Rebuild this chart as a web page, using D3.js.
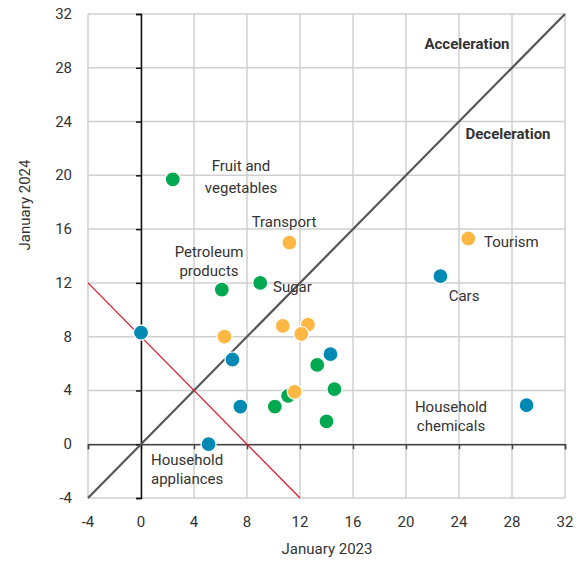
<!DOCTYPE html>
<html>
<head>
<meta charset="utf-8">
<script src="https://cdn.jsdelivr.net/npm/d3@7"></script>
<style>
  body { margin: 0; background: #fff; }
  text { font-family: Roboto, "Open Sans", sans-serif; fill: #333; }
</style>
</head>
<body>
<div id="chart"></div>
<script>
// Jan 2023 (x) vs Jan 2024 (y), % y/y
const greenX = [2.4, 6.1, 9.0, 13.3, 14.6, 11.1, 10.1, 14.0];
const greenY = [19.7, 11.5, 12.0, 5.9, 4.1, 3.6, 2.8, 1.7];
const orangeX = [11.2, 24.7, 10.7, 12.6, 12.1, 6.3, 11.6];
const orangeY = [15.0, 15.3, 8.8, 8.9, 8.2, 8.0, 3.9];
const blueX = [22.6, 29.1, 5.1, 0.0, 6.9, 14.3, 7.5];
const blueY = [12.5, 2.9, 0.0, 8.3, 6.3, 6.7, 2.8];
const ticks = [-4, 0, 4, 8, 12, 16, 20, 24, 28, 32];

const W = 584, H = 561;
const m = { top: 14, right: 19, bottom: 63, left: 88 };

const svg = d3.select("#chart").append("svg")
    .attr("width", W)
    .attr("height", H);

const x = d3.scaleLinear().domain([-4, 32]).range([m.left, W - m.right]);
const y = d3.scaleLinear().domain([-4, 32]).range([H - m.bottom, m.top]);

// grid
const grid = svg.append("g").attr("stroke", "#cfcfcf").attr("stroke-width", 1.5);
grid.selectAll(".gx").data(ticks).enter().append("line")
    .attr("x1", d => x(d)).attr("x2", d => x(d))
    .attr("y1", y(-4)).attr("y2", y(32));
grid.selectAll(".gy").data(ticks).enter().append("line")
    .attr("y1", d => y(d)).attr("y2", d => y(d))
    .attr("x1", x(-4)).attr("x2", x(32));

// zero axes with ticks
svg.append("g")
    .attr("transform", `translate(0,${y(0)})`)
    .call(d3.axisBottom(x).tickValues(ticks).tickSize(5).tickFormat(""))
    .call(g => g.selectAll("path,line").attr("stroke", "#444").attr("stroke-width", 1.5));

svg.append("g")
    .attr("transform", `translate(${x(0)},0)`)
    .call(d3.axisLeft(y).tickValues(ticks).tickSize(5).tickFormat(""))
    .call(g => g.selectAll("path,line").attr("stroke", "#111").attr("stroke-width", 1.5));

// tick labels
svg.append("g").selectAll("text").data(ticks).enter().append("text")
    .attr("x", d => x(d)).attr("y", y(-4) + 29)
    .attr("text-anchor", "middle")
    .style("font-size", "15px")
    .text(d => d);
svg.append("g").selectAll("text").data(ticks).enter().append("text")
    .attr("x", x(-4) - 16).attr("y", d => y(d) + 5)
    .attr("text-anchor", "end")
    .style("font-size", "15px")
    .text(d => d);

// axis titles
svg.append("text")
    .attr("x", 327).attr("y", 554)
    .attr("text-anchor", "middle")
    .style("font-size", "15px")
    .text("January 2023");
svg.append("text")
    .attr("transform", `translate(30,205) rotate(-90)`)
    .attr("text-anchor", "middle")
    .style("font-size", "15px")
    .text("January 2024");

// reference lines: y = x and x + y = 8
svg.append("line")
    .attr("x1", x(-4)).attr("y1", y(-4))
    .attr("x2", x(32)).attr("y2", y(32))
    .attr("stroke", "#555").attr("stroke-width", 2.2);
svg.append("line")
    .attr("x1", x(-4)).attr("y1", y(12))
    .attr("x2", x(12)).attr("y2", y(-4))
    .attr("stroke", "#e3162b").attr("stroke-width", 1.3);

// points
const series = [
    { xs: greenX, ys: greenY, color: "#00a84f" },
    { xs: orangeX, ys: orangeY, color: "#ffb743" },
    { xs: blueX, ys: blueY, color: "#008ab3" }
];
series.forEach(s => {
    svg.append("g").selectAll("circle")
        .data(s.xs.map((v, i) => [v, s.ys[i]]))
        .enter()
        .append("circle")
        .attr("cx", d => x(d[0]))
        .attr("cy", d => y(d[1]))
        .attr("r", 7.5)
        .attr("fill", s.color)
        .attr("stroke", "#fff")
        .attr("stroke-width", 1.2);
});

// labels
const labels = [
    ["Fruit and", 241, 171, "middle"],
    ["vegetables", 241, 193, "middle"],
    ["Transport", 284, 227, "middle"],
    ["Petroleum", 209, 257, "middle"],
    ["products", 209, 276, "middle"],
    ["Sugar", 273, 292, "start"],
    ["Tourism", 484, 247, "start"],
    ["Cars", 464, 301, "middle"],
    ["Household", 451, 412, "middle"],
    ["chemicals", 451, 431, "middle"],
    ["Household", 151, 465, "start"],
    ["appliances", 151, 484, "start"]
];
svg.append("g").selectAll("text").data(labels).enter().append("text")
    .attr("x", d => d[1]).attr("y", d => d[2])
    .attr("text-anchor", d => d[3])
    .style("font-size", "15px")
    .text(d => d[0]);

svg.append("text")
    .attr("x", 467).attr("y", 49)
    .attr("text-anchor", "middle")
    .style("font-size", "15px").style("font-weight", "bold")
    .text("Acceleration");
svg.append("text")
    .attr("x", 508).attr("y", 139)
    .attr("text-anchor", "middle")
    .style("font-size", "15px").style("font-weight", "bold")
    .text("Deceleration");
</script>
</body>
</html>
